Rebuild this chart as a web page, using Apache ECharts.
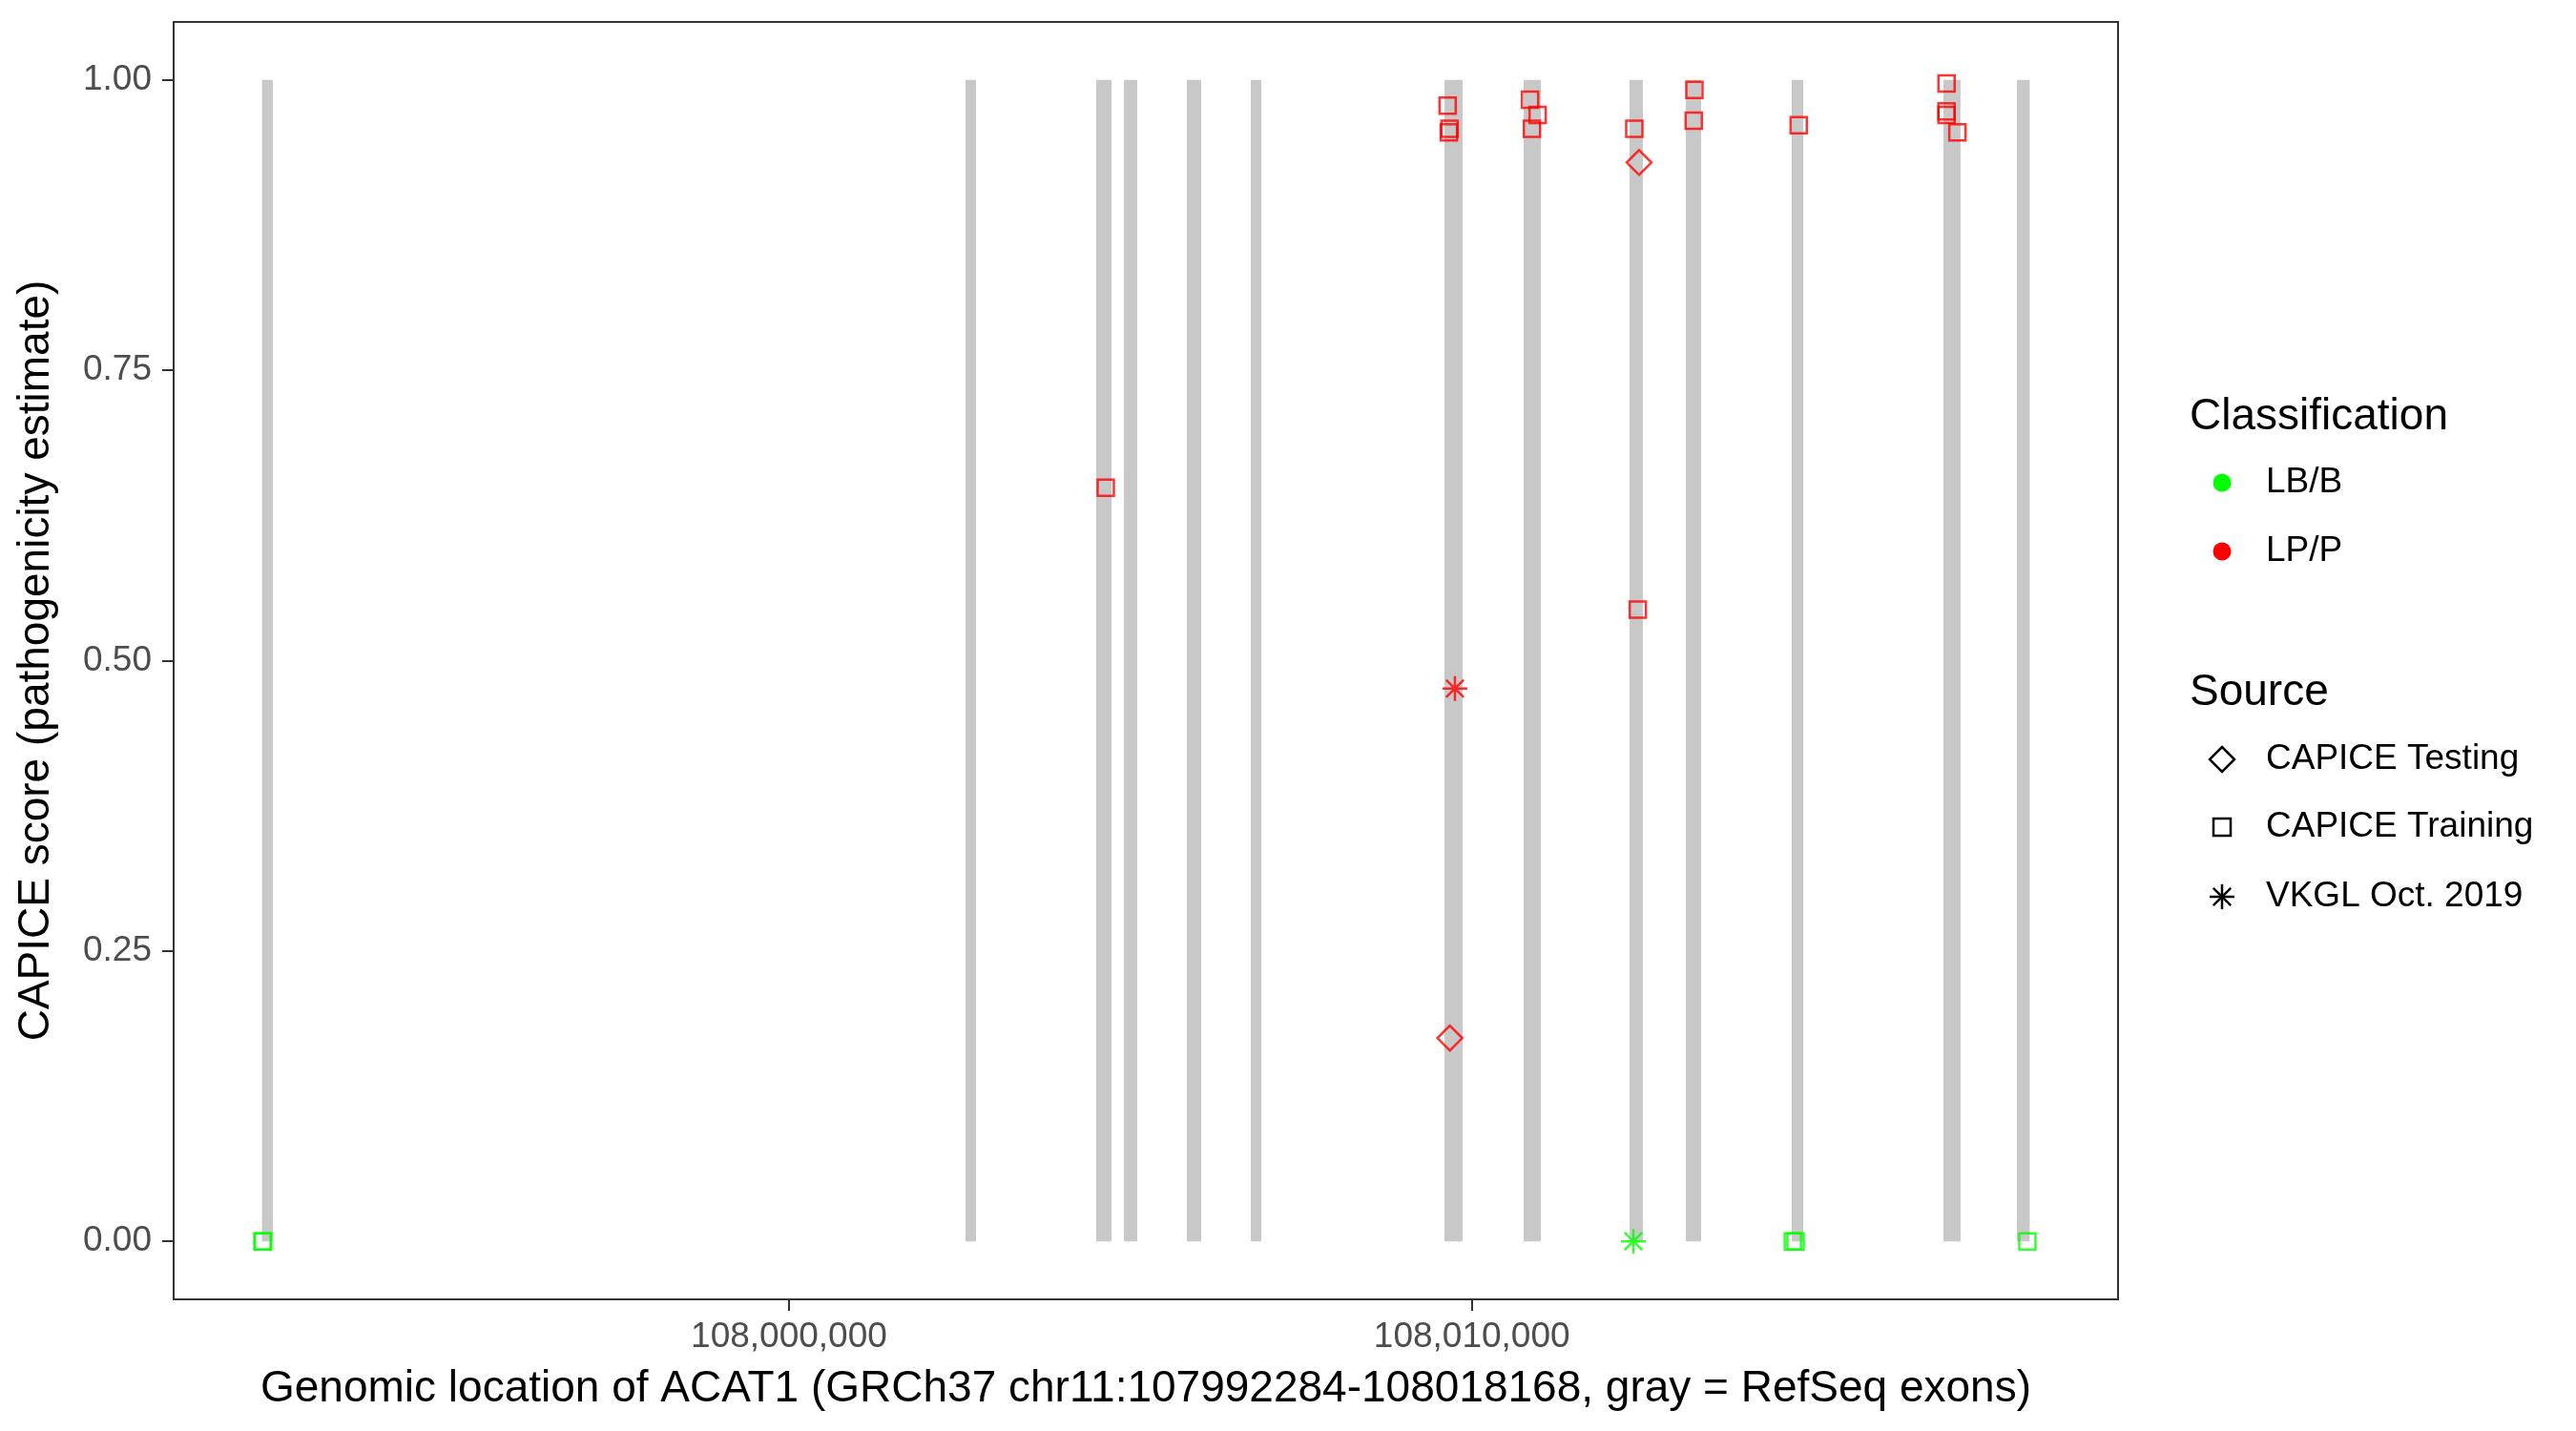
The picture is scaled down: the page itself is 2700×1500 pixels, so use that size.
<!DOCTYPE html>
<html>
<head>
<meta charset="utf-8">
<script src="https://cdn.jsdelivr.net/npm/echarts@6/dist/echarts.min.js"></script>
<style>
html,body{margin:0;padding:0;background:#fff;}
#chart{width:2700px;height:1500px;}
</style>
</head>
<body>
<div id="chart"></div>
<script>
// ---- data ----
const exonStart = [107992284, 108002586, 108004499, 108004905, 108005826, 108006763, 108009599, 108010758, 108012309, 108013133, 108014684, 108016905, 108017981];
const exonEnd   = [107992443, 108002739, 108004723, 108005100, 108006036, 108006916, 108009864, 108011010, 108012504, 108013357, 108014852, 108017156, 108018168];

const varPos = [107992290, 107992300, 108004639, 108009645, 108009673, 108009664, 108009752, 108009678, 108010852, 108010963, 108010880, 108012379, 108012449, 108012430, 108012365, 108013259, 108013249, 108014786, 108014700, 108014740, 108016951, 108016951, 108016951, 108017110, 108018135];
const varScore = [0, 0, 0.649, 0.978, 0.958, 0.955, 0.476, 0.175, 0.983, 0.970, 0.958, 0.958, 0.929, 0.544, 0, 0.9915, 0.965, 0.961, 0, 0, 0.997, 0.973, 0.970, 0.955, 0];
const varClass = ['LB/B','LB/B','LP/P','LP/P','LP/P','LP/P','LP/P','LP/P','LP/P','LP/P','LP/P','LP/P','LP/P','LP/P','LB/B','LP/P','LP/P','LP/P','LB/B','LB/B','LP/P','LP/P','LP/P','LP/P','LB/B'];
const varSource = ['CAPICE Training','CAPICE Training','CAPICE Training','CAPICE Training','CAPICE Training','CAPICE Training','VKGL Oct. 2019','CAPICE Testing','CAPICE Training','CAPICE Training','CAPICE Training','CAPICE Training','CAPICE Testing','CAPICE Training','VKGL Oct. 2019','CAPICE Training','CAPICE Training','CAPICE Training','CAPICE Training','CAPICE Training','CAPICE Training','CAPICE Training','CAPICE Training','CAPICE Training','CAPICE Training'];

const classNames = ['LB/B', 'LP/P'];
const sourceNames = ['CAPICE Testing', 'CAPICE Training', 'VKGL Oct. 2019'];
const yTicks = [0, 0.25, 0.5, 0.75, 1];
const xTicks = [108000000, 108010000];
const regionStart = 107992284, regionEnd = 108018168;

// ---- styling ----
const classColor = {'LB/B': '#00FF00', 'LP/P': '#FF0000'};
const ASTERISK = 'path://M10,0L10,20M0,10L20,10M2.93,2.93L17.07,17.07M2.93,17.07L17.07,2.93';
const sourceSymbol = {
  'CAPICE Testing': {symbol: 'diamond', size: 26, bw: 2.5},
  'CAPICE Training': {symbol: 'rect', size: 17, bw: 2.5},
  'VKGL Oct. 2019': {symbol: ASTERISK, size: 26, bw: 2.5}
};
const FONT = '"Liberation Sans", Arial, Helvetica, sans-serif';

const span = regionEnd - regionStart;
const xMin = regionStart - 0.05 * span, xMax = regionEnd + 0.05 * span;
const yMin = -0.05, yMax = 1.05;

const exonData = exonStart.map((s, i) => [s, exonEnd[i], 0, 1]);

const scatterSeries = sourceNames.map(src => {
  const st = sourceSymbol[src];
  const data = [];
  varPos.forEach((p, i) => {
    if (varSource[i] !== src) return;
    data.push({
      value: [p, varScore[i]],
      itemStyle: {color: 'rgba(0,0,0,0)', borderColor: classColor[varClass[i]], borderWidth: st.bw}
    });
  });
  return {
    name: src, type: 'scatter', symbol: st.symbol, symbolSize: st.size,
    z: 5, silent: true, animation: false, data: data
  };
});

const chart = echarts.init(document.getElementById('chart'), null, {renderer: 'canvas'});

const lx = 2329, tx = 2375, dy = 3;
function legendText(text, x, y, size) {
  return {type: 'text', x: x, y: y + dy, style: {text: text, font: size + 'px ' + FONT, fill: '#000', textVerticalAlign: 'middle', verticalAlign: 'middle'}};
}
const yA = 937 + dy;
const graphics = [
  legendText('Classification', 2295, 434, 46),
  {type: 'circle', shape: {cx: lx, cy: 503 + dy, r: 9.5}, style: {fill: classColor['LB/B']}},
  legendText(classNames[0], tx, 503, 37),
  {type: 'circle', shape: {cx: lx, cy: 575 + dy, r: 9.5}, style: {fill: classColor['LP/P']}},
  legendText(classNames[1], tx, 575, 37),
  legendText('Source', 2295, 723, 46),
  {type: 'polygon', shape: {points: [[lx, 796 - 13], [lx + 13, 796], [lx, 796 + 13], [lx - 13, 796]]}, style: {fill: 'none', stroke: '#000', lineWidth: 2.5}},
  legendText(sourceNames[0], tx, 793, 37),
  {type: 'rect', shape: {x: lx - 9, y: 867 - 9, width: 18, height: 18}, style: {fill: 'none', stroke: '#000', lineWidth: 2.5}},
  legendText(sourceNames[1], tx, 864, 37),
  {type: 'group', children: [
    {type: 'line', shape: {x1: lx, y1: yA - 13, x2: lx, y2: yA + 13}, style: {stroke: '#000', lineWidth: 2.5}},
    {type: 'line', shape: {x1: lx - 13, y1: yA, x2: lx + 13, y2: yA}, style: {stroke: '#000', lineWidth: 2.5}},
    {type: 'line', shape: {x1: lx - 9.2, y1: yA - 9.2, x2: lx + 9.2, y2: yA + 9.2}, style: {stroke: '#000', lineWidth: 2.5}},
    {type: 'line', shape: {x1: lx - 9.2, y1: yA + 9.2, x2: lx + 9.2, y2: yA - 9.2}, style: {stroke: '#000', lineWidth: 2.5}}
  ]},
  legendText(sourceNames[2], tx, 937, 37)
];

const axisLineStyle = {show: true, onZero: false, lineStyle: {color: '#333333', width: 2}};

const option = {
  animation: false,
  backgroundColor: '#ffffff',
  textStyle: {fontFamily: FONT},
  grid: {left: 182, top: 23, width: 2038, height: 1339, show: true, borderColor: '#333333', borderWidth: 2, backgroundColor: '#ffffff', containLabel: false},
  xAxis: {
    type: 'value', min: xMin, max: xMax, position: 'bottom',
    name: 'Genomic location of ACAT1 (GRCh37 chr11:107992284-108018168, gray = RefSeq exons)',
    nameLocation: 'middle', nameGap: 71,
    nameTextStyle: {fontSize: 46, color: '#000', fontFamily: FONT},
    axisLine: axisLineStyle,
    splitLine: {show: false},
    axisTick: {show: true, inside: false, length: 12, lineStyle: {color: '#333333', width: 2}, customValues: xTicks},
    axisLabel: {fontSize: 37, color: '#4d4d4d', margin: 21, fontFamily: FONT, customValues: xTicks,
      formatter: v => Math.round(v).toString().replace(/\B(?=(\d{3})+(?!\d))/g, ',')}
  },
  yAxis: {
    type: 'value', min: yMin, max: yMax, position: 'left',
    name: 'CAPICE score (pathogenicity estimate)',
    nameLocation: 'middle', nameGap: 121, nameRotate: 90,
    nameTextStyle: {fontSize: 46, color: '#000', fontFamily: FONT},
    axisLine: axisLineStyle,
    splitLine: {show: false},
    axisTick: {show: true, inside: false, length: 12, lineStyle: {color: '#333333', width: 2}, customValues: yTicks},
    axisLabel: {fontSize: 37, color: '#4d4d4d', margin: 23, fontFamily: FONT, customValues: yTicks,
      formatter: v => Number(v).toFixed(2)}
  },
  series: [
    {
      type: 'custom', name: 'exons', z: 1, silent: true, clip: true,
      data: exonData,
      encode: {x: [0, 1], y: [2, 3]},
      renderItem: function (params, api) {
        const p0 = api.coord([api.value(0), api.value(2)]);
        const p1 = api.coord([api.value(1), api.value(3)]);
        return {type: 'rect', shape: {x: p0[0], y: p1[1], width: Math.max(p1[0] - p0[0], 1), height: p0[1] - p1[1]}, style: {fill: '#c8c8c8'}};
      }
    }
  ].concat(scatterSeries),
  graphic: graphics
};
chart.setOption(option);
</script>
</body>
</html>
